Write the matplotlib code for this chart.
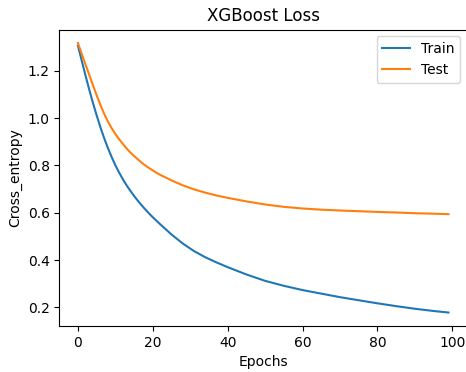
import matplotlib
matplotlib.use("Agg")
import matplotlib.pyplot as plt

epochs = [0, 1, 2, 3, 4, 5, 6, 7, 8, 9, 10, 11, 12, 13, 14, 15, 16, 17, 18, 19, 20, 21, 22,
          25, 28, 31, 34, 37, 40, 45, 50, 55, 60, 65, 70, 75, 80, 85, 90, 95, 99]
train_loss = [1.307, 1.244, 1.182, 1.122, 1.065, 1.012, 0.962, 0.916, 0.874, 0.836, 0.801,
              0.770, 0.742, 0.716, 0.693, 0.671, 0.651, 0.632, 0.614, 0.597, 0.581, 0.566, 0.551,
              0.508, 0.470, 0.438, 0.412, 0.390, 0.370, 0.339, 0.312, 0.291, 0.273, 0.258,
              0.243, 0.230, 0.217, 0.205, 0.194, 0.1845, 0.178]
test_loss = [1.318, 1.273, 1.228, 1.184, 1.140, 1.097, 1.056, 1.019, 0.986, 0.958, 0.933,
             0.911, 0.891, 0.872, 0.855, 0.840, 0.826, 0.812, 0.800, 0.789, 0.779, 0.769, 0.760,
             0.737, 0.716, 0.699, 0.685, 0.673, 0.663, 0.648, 0.635, 0.625, 0.618, 0.613,
             0.6095, 0.6065, 0.6035, 0.601, 0.598, 0.596, 0.594]

W, H = 466, 372
fig = plt.figure(figsize=(W / 100, H / 100), dpi=100)
left, right, top, bottom = 59.4, 467.0, 29.5, 326.0
ax = fig.add_axes([left / W, (H - bottom) / H, (right - left) / W, (bottom - top) / H])

ax.plot(epochs, train_loss, label="Train", color="#1f77b4", linewidth=1.5)
ax.plot(epochs, test_loss, label="Test", color="#ff7f0e", linewidth=1.5)
ax.set_xticks([0, 20, 40, 60, 80, 100])
ax.set_yticks([0.2, 0.4, 0.6, 0.8, 1.0, 1.2])
ax.set_xlabel("Epochs")
ax.set_ylabel("Cross_entropy")
ax.set_title("XGBoost Loss")
ax.legend(loc="upper right")

fig.savefig("out.png", dpi=100)
